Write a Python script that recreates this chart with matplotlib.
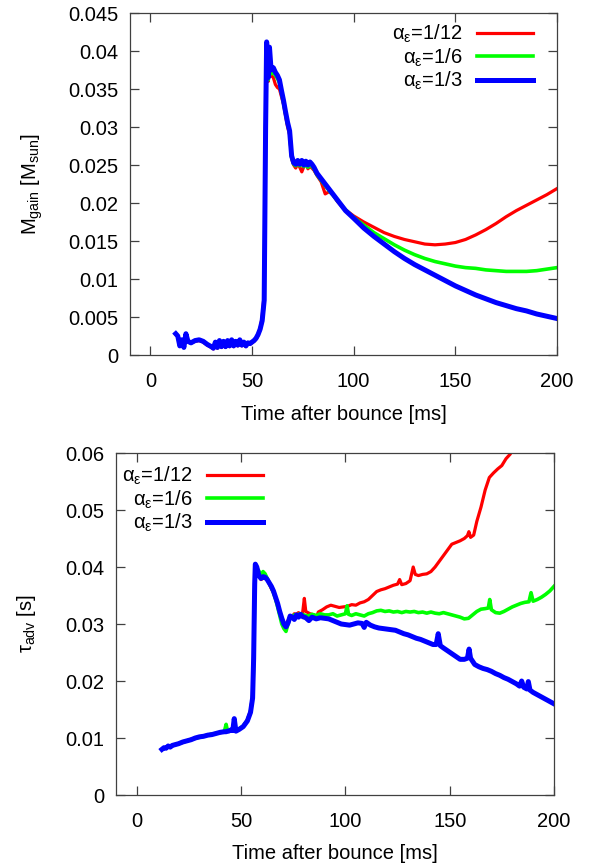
import numpy as np
import matplotlib
matplotlib.use("Agg")
import matplotlib.pyplot as plt
from matplotlib.ticker import FormatStrFormatter

plt.rcParams["font.family"] = ["Liberation Sans", "DejaVu Sans"]
plt.rcParams["mathtext.fontset"] = "custom"
plt.rcParams["mathtext.rm"] = "Liberation Sans"
plt.rcParams["mathtext.it"] = "Liberation Sans"
plt.rcParams["mathtext.bf"] = "Liberation Sans"

labels = ["α$_{ε}$=1/12", "α$_{ε}$=1/6", "α$_{ε}$=1/3"]
colors = ["#ff0000", "#00ff00", "#0000ff"]
widths = [2.3, 2.6, 3.6]

# ---- top panel: gain mass [Msun] ----
top_t_early = [12.5, 13.5, 14.5, 15.5, 16.5, 17.5, 18.5,
               20, 22, 24, 26, 28, 30,
               31, 32, 33, 34, 35, 36, 37, 38, 39, 40, 41, 42, 43, 44, 45, 46,
               47, 48, 49, 50, 51, 52, 53, 54, 55, 56,
               56.7, 57.2, 58.0, 58.6, 59.4,
               60.5, 61.5, 62.5, 63.5, 64.5, 65.5, 66.5, 67.5, 68.5, 69.5, 70.5,
               71.5, 72.5, 73.5, 74.5, 75.5, 76.5, 77.5, 78.5, 79.5, 80.5,
               82, 84, 86, 88, 90, 92, 94, 96, 98]
top_red_early = [.0027, .0024, .0013, .0019, .0011, .0027, .0017,
                 .0016, .0018, .0019, .0017, .0013, .0010,
                 .0008, .0016, .0009, .0018, .0010, .0017, .0010, .0018, .0011, .0019,
                 .0011, .0017, .0012, .0019, .0012, .0016, .0011, .0015, .0014, .0016,
                 .0018, .0021, .0026, .0035, .0050, .0080,
                 .0310, .0408, .0360, .0398, .0368,
                 .0365, .0356, .0352, .0350, .0340, .0330, .0315, .0300, .0290, .0258,
                 .0250, .0246, .0252, .0247, .0241, .0248, .0252, .0245, .0248, .0246, .0243,
                 .0236, .0228, .0212, .0215, .0210, .0202, .0196, .0191, .0187]
top_green_early = [.0028, .0025, .0012, .0020, .0010, .0028, .0018,
                   .0016, .0019, .0020, .0018, .0014, .0011,
                   .0009, .0017, .0010, .0019, .0011, .0018, .0011, .0019, .0012, .0020,
                   .0012, .0018, .0013, .0020, .0013, .0017, .0012, .0016, .0015, .0017,
                   .0019, .0022, .0027, .0034, .0045, .0070,
                   .0290, .0410, .0362, .0400, .0370,
                   .0372, .0368, .0364, .0358, .0345, .0332, .0318, .0304, .0293, .0260,
                   .0251, .0249, .0253, .0249, .0252, .0248, .0251, .0247, .0250, .0248, .0245,
                   .0237, .0230, .0223, .0216, .0210, .0203, .0197, .0191, .0186]
top_blue_early = [.0028, .0025, .0012, .0020, .0010, .0028, .0018,
                  .0016, .0019, .0020, .0018, .0014, .0011,
                  .0009, .0017, .0010, .0019, .0011, .0018, .0011, .0019, .0012, .0020,
                  .0012, .0018, .0013, .0020, .0013, .0017, .0012, .0016, .0015, .0017,
                  .0019, .0022, .0027, .0034, .0045, .0072,
                  .0300, .0412, .0365, .0405, .0375,
                  .0378, .0372, .0368, .0362, .0348, .0335, .0320, .0306, .0295, .0262,
                  .0253, .0251, .0256, .0251, .0256, .0250, .0255, .0250, .0254, .0251, .0247,
                  .0239, .0232, .0225, .0218, .0211, .0204, .0197, .0190, .0185]

top_t_late = [100, 105, 110, 115, 120, 125, 130, 135, 140, 145, 150,
              155, 160, 165, 170, 175, 180, 185, 190, 195, 200]
top_red_late = [.0183, .0175, .0168, .0161, .0156, .0152, .0149, .0146, .0145, .0146, .0148,
                .0152, .0158, .0165, .0173, .0182, .0190, .0197, .0204, .0211, .0219]
top_green_late = [.0181, .0171, .0161, .0153, .0145, .0138, .0132, .0127, .0123, .0120, .0117,
                  .0115, .0114, .0112, .0111, .0110, .0110, .0110, .0111, .0113, .0115]
top_blue_late = [.0180, .0167, .0156, .0146, .0136, .0127, .0119, .0112, .0105, .0098, .0091,
                 .0085, .0079, .0074, .0069, .0065, .0061, .0058, .0054, .0051, .0048]

# ---- bottom panel: advection time [s] ----
bot_t_early = [12, 13, 14, 15, 16, 17, 18,
               20, 22, 24, 26, 28, 30, 32, 34, 36, 38, 40, 42,
               42.8, 43.5, 44, 45, 46, 46.7, 47.5, 49, 51, 53, 54.5, 55.5, 56, 56.5, 56.8,
               57.5, 58.5, 59.5, 60.5, 61.5, 62.5, 63.5, 64.5, 65.5, 66.5, 67.5,
               68.5, 69.5, 70.5, 71.5, 72.5, 73.5, 74.5, 75.5, 76.5, 77.5]
bot_red_early = [.0080, .0082, .0083, .0085, .0085, .0086, .0088,
                 .0090, .0092, .0095, .0098, .0099, .0102, .0104, .0105, .0107, .0108, .0109, .0111,
                 .0112, .0111, .0113, .0113, .0114, .0116, .0113, .0115, .0121, .0132, .0148,
                 .0175, .0250, .0375, .0400,
                 .0398, .0388, .0378, .0380, .0384, .0380, .0370, .0362, .0355, .0345, .0333,
                 .0320, .0308, .0298, .0300, .0306, .0315, .0313, .0318, .0317, .0320]
bot_green_early = [.0080, .0083, .0082, .0085, .0085, .0087, .0088,
                   .0090, .0093, .0095, .0097, .0100, .0101, .0103, .0105, .0107, .0108, .0110, .0112,
                   .0124, .0112, .0112, .0113, .0114, .0115, .0113, .0116, .0121, .0131, .0146,
                   .0172, .0230, .0360, .0395,
                   .0398, .0393, .0385, .0392, .0388, .0380, .0372, .0364, .0355, .0344, .0330,
                   .0315, .0300, .0292, .0287, .0300, .0312, .0313, .0316, .0315, .0317]
bot_blue_early = [.0080, .0083, .0082, .0086, .0084, .0087, .0088,
                  .0090, .0093, .0095, .0097, .0100, .0102, .0103, .0105, .0106, .0108, .0110, .0111,
                  .0111, .0112, .0112, .0114, .0113, .0134, .0112, .0115, .0120, .0130, .0145,
                  .0170, .0240, .0370, .0405,
                  .0400, .0385, .0380, .0383, .0382, .0378, .0372, .0366, .0358, .0347, .0336,
                  .0322, .0310, .0300, .0295, .0302, .0314, .0312, .0308, .0316, .0312]

bot_red_t = [78.5, 79.5, 80.3, 81, 83, 85, 86, 87, 89, 91, 93, 95, 97, 99, 101, 103, 105,
             107, 109, 111, 113, 115, 117, 119, 121, 123, 125, 126, 127, 129, 131, 132.5,
             133.5, 135, 137, 139, 141, 143, 145, 147, 149, 151, 153, 155, 157, 158.5,
             159.2, 160, 161.5, 163, 165, 167, 169, 171, 173, 175, 177, 179, 180]
bot_red = [.0317, .0320, .0345, .0322, .0318, .0316, .0310, .0321, .0325, .0330, .0333,
           .0331, .0329, .0330, .0331, .0334, .0333, .0337, .0339, .0343, .0350, .0357,
           .0360, .0362, .0365, .0368, .0370, .0378, .0369, .0371, .0376, .0400, .0387,
           .0385, .0387, .0388, .0392, .0400, .0410, .0420, .0430, .0440, .0443, .0446,
           .0450, .0455, .0462, .0452, .0456, .0480, .0505, .0535, .0557, .0565, .0572,
           .0578, .0590, .0598, .0606]

bot_green_t = [78.5, 80, 82, 84, 86, 88, 90, 92, 94, 96, 98, 100, 100.8, 101.5, 103, 105,
               107, 109, 111, 113, 115, 117, 119, 121, 123, 125, 127, 129, 131, 133, 135,
               137, 139, 141, 143, 145, 147, 149, 151, 153, 155, 157, 159, 161, 163, 165,
               167, 168.5, 169.2, 170, 172, 174, 176, 178, 180, 182, 184, 186, 188, 189,
               190, 192, 194, 196, 198, 200]
bot_green = [.0318, .0316, .0314, .0317, .0315, .0318, .0316, .0316, .0318, .0314, .0316,
             .0318, .0332, .0317, .0315, .0318, .0316, .0314, .0318, .0320, .0323, .0324,
             .0322, .0323, .0321, .0322, .0320, .0322, .0321, .0322, .0320, .0321, .0319,
             .0321, .0319, .0318, .0320, .0318, .0316, .0314, .0312, .0309, .0310, .0316,
             .0322, .0326, .0327, .0328, .0343, .0325, .0320, .0319, .0322, .0326, .0330,
             .0333, .0336, .0338, .0339, .0355, .0340, .0343, .0347, .0352, .0358, .0366]

bot_blue_t = [78.5, 79.5, 81, 82.5, 84, 86, 88, 90, 92, 94, 96, 98, 100, 102, 104, 106,
              108, 109, 110, 112, 114, 116, 118, 120, 122, 124, 126, 128, 130, 132, 134,
              136, 138, 140, 142, 143.5, 144.5, 145.5, 147, 149, 151, 153, 155, 157, 158.5,
              159.3, 160, 162, 164, 166, 168, 170, 172, 174, 176, 178, 180, 182, 183.5,
              184.5, 185.5, 187, 187.7, 188.5, 190, 192, 194, 196, 198, 200]
bot_blue = [.0317, .0313, .0311, .0306, .0312, .0309, .0311, .0310, .0309, .0306, .0303,
            .0300, .0299, .0298, .0300, .0302, .0301, .0294, .0303, .0298, .0295, .0293,
            .0292, .0291, .0290, .0289, .0286, .0283, .0281, .0278, .0275, .0273, .0270,
            .0267, .0264, .0264, .0283, .0262, .0258, .0253, .0248, .0243, .0238, .0238,
            .0240, .0256, .0240, .0229, .0225, .0222, .0220, .0217, .0213, .0210, .0206,
            .0203, .0199, .0195, .0191, .0200, .0189, .0186, .0199, .0184, .0180, .0176,
            .0172, .0168, .0164, .0160]

top_series = [
    (top_t_early + top_t_late, top_red_early + top_red_late),
    (top_t_early + top_t_late, top_green_early + top_green_late),
    (top_t_early + top_t_late, top_blue_early + top_blue_late),
]
bot_series = [
    (bot_t_early + bot_red_t, bot_red_early + bot_red),
    (bot_t_early + bot_green_t, bot_green_early + bot_green),
    (bot_t_early + bot_blue_t, bot_blue_early + bot_blue),
]

fig = plt.figure(figsize=(5.93, 8.68), dpi=100)
ax1 = fig.add_axes([0.2192, 0.5910, 0.7201, 0.3940])
ax2 = fig.add_axes([0.1956, 0.0841, 0.7386, 0.3940])

fs = 14.5


def style(ax):
    ax.tick_params(direction="in", top=True, right=True, length=6.5, width=0.9,
                   labelsize=fs, color="#404040")
    ax.tick_params(axis="y", pad=8.5)
    ax.tick_params(axis="x", pad=12)
    for s in ax.spines.values():
        s.set_color("#404040")
        s.set_linewidth(0.9)
    ax.set_xlim(-10, 200)
    ax.set_xticks([0, 50, 100, 150, 200])
    ax.set_xlabel("Time after bounce [ms]", fontsize=fs)


def right_align(leg):
    for vp in leg._legend_box._children[-1]._children:
        vp.align = "right"


for (t, v), c, lw, lab in zip(top_series, colors, widths, labels):
    ax1.plot(t, v, color=c, lw=lw, label=lab)
style(ax1)
ax1.set_ylim(0, 0.045)
ax1.set_yticks(np.arange(0, 0.0451, 0.005))
ax1.yaxis.set_major_formatter(FormatStrFormatter("%g"))
ax1.set_ylabel("M$_{\\rm gain}$ [M$_{\\rm sun}$]", fontsize=fs)
ax1.yaxis.set_label_coords(-0.2, 0.5)
ax1.xaxis.set_label_coords(0.5, -0.147)
leg1 = ax1.legend(loc="upper right", bbox_to_anchor=(0.944, 0.971), markerfirst=False,
                  frameon=False, fontsize=fs, handlelength=2.8, handletextpad=0.7,
                  labelspacing=0.06, borderpad=0, borderaxespad=0)
right_align(leg1)

for (t, v), c, lw, lab in zip(bot_series, colors, widths, labels):
    ax2.plot(t, v, color=c, lw=lw, label=lab)
style(ax2)
ax2.set_ylim(0, 0.06)
ax2.set_yticks(np.arange(0, 0.0601, 0.01))
ax2.yaxis.set_major_formatter(FormatStrFormatter("%g"))
ax2.set_ylabel("τ$_{\\rm adv}$ [s]", fontsize=fs)
ax2.yaxis.set_label_coords(-0.178, 0.5)
ax2.xaxis.set_label_coords(0.5, -0.142)
leg2 = ax2.legend(loc="upper left", bbox_to_anchor=(0.014, 0.965), markerfirst=False,
                  frameon=False, fontsize=fs, handlelength=2.8, handletextpad=0.7,
                  labelspacing=0.06, borderpad=0, borderaxespad=0)
right_align(leg2)

fig.savefig("out.png", dpi=100)
